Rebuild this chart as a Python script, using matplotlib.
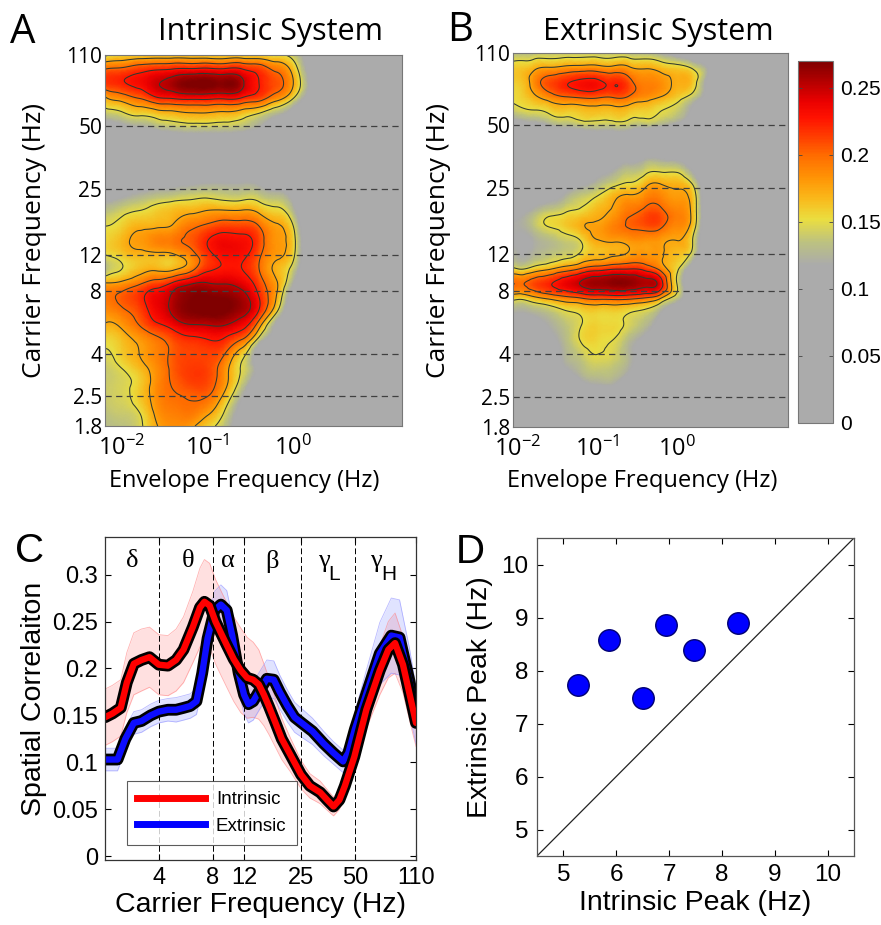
import numpy as np
import matplotlib
matplotlib.use("Agg")
import matplotlib.pyplot as plt
from matplotlib.colors import LinearSegmentedColormap
from matplotlib.lines import Line2D
import matplotlib.tri as mtri
import matplotlib.patheffects as pe
import matplotlib.transforms as mtrans

plt.rcParams['font.family'] = ['Liberation Sans', 'DejaVu Sans']
plt.rcParams['mathtext.default'] = 'regular'

# ---------------- heat-map data (panels A and B) ----------------
envelope_log10 = [-2.2, -2.0, -1.8, -1.6, -1.4, -1.2, -1.0, -0.8, -0.6, -0.4, -0.2, 0.0, 0.2, 0.4, 0.6]
carrier_freq = [1.8, 2.1, 2.5, 2.9, 3.4, 4.0, 4.7, 5.5, 6.4, 7.5, 8.8, 10.3, 12, 14, 16.5,
                19.3, 22.5, 26.5, 31, 36, 42, 50, 58, 68, 80, 94, 110]

intrinsic_map = [
    [0.130, 0.135, 0.145, 0.173, 0.185, 0.180, 0.158, 0.135, 0.090, 0.050, 0.020, 0.00, 0.00, 0.00, 0],
    [0.135, 0.140, 0.150, 0.180, 0.192, 0.195, 0.180, 0.148, 0.100, 0.050, 0.020, 0.00, 0.00, 0.00, 0],
    [0.140, 0.145, 0.160, 0.185, 0.198, 0.202, 0.200, 0.168, 0.120, 0.060, 0.020, 0.00, 0.00, 0.00, 0],
    [0.140, 0.145, 0.158, 0.185, 0.202, 0.212, 0.210, 0.182, 0.140, 0.080, 0.030, 0.00, 0.00, 0.00, 0],
    [0.140, 0.150, 0.165, 0.185, 0.205, 0.215, 0.212, 0.185, 0.148, 0.100, 0.040, 0.01, 0.00, 0.00, 0],
    [0.148, 0.160, 0.175, 0.190, 0.205, 0.212, 0.213, 0.200, 0.160, 0.090, 0.030, 0.01, 0.00, 0.00, 0],
    [0.155, 0.165, 0.180, 0.195, 0.210, 0.220, 0.225, 0.222, 0.200, 0.140, 0.080, 0.02, 0.00, 0.00, 0],
    [0.173, 0.180, 0.200, 0.220, 0.235, 0.248, 0.250, 0.250, 0.235, 0.185, 0.110, 0.04, 0.00, 0.00, 0],
    [0.185, 0.195, 0.210, 0.235, 0.255, 0.268, 0.272, 0.270, 0.258, 0.222, 0.155, 0.07, 0.01, 0.00, 0],
    [0.195, 0.205, 0.218, 0.238, 0.255, 0.268, 0.270, 0.268, 0.258, 0.225, 0.175, 0.09, 0.02, 0.00, 0],
    [0.175, 0.180, 0.195, 0.210, 0.228, 0.245, 0.250, 0.248, 0.240, 0.212, 0.178, 0.12, 0.03, 0.00, 0],
    [0.130, 0.150, 0.165, 0.170, 0.170, 0.190, 0.220, 0.228, 0.225, 0.200, 0.170, 0.140, 0.05, 0.00, 0],
    [0.150, 0.160, 0.168, 0.170, 0.172, 0.190, 0.218, 0.232, 0.230, 0.205, 0.180, 0.155, 0.06, 0.00, 0],
    [0.155, 0.168, 0.180, 0.190, 0.195, 0.205, 0.225, 0.235, 0.232, 0.212, 0.182, 0.158, 0.06, 0.00, 0],
    [0.150, 0.158, 0.170, 0.172, 0.178, 0.195, 0.205, 0.213, 0.212, 0.200, 0.178, 0.150, 0.05, 0.00, 0],
    [0.135, 0.145, 0.152, 0.160, 0.167, 0.172, 0.178, 0.180, 0.180, 0.172, 0.158, 0.130, 0.04, 0.00, 0],
    [0.110, 0.120, 0.130, 0.138, 0.143, 0.147, 0.150, 0.145, 0.145, 0.143, 0.135, 0.110, 0.03, 0.00, 0],
    [0.080, 0.090, 0.100, 0.105, 0.110, 0.115, 0.120, 0.120, 0.120, 0.115, 0.100, 0.080, 0.02, 0.00, 0],
    [0.060, 0.065, 0.070, 0.075, 0.080, 0.085, 0.090, 0.090, 0.090, 0.085, 0.070, 0.050, 0.01, 0.00, 0],
    [0.050, 0.050, 0.055, 0.060, 0.060, 0.065, 0.065, 0.065, 0.060, 0.055, 0.050, 0.030, 0.00, 0.00, 0],
    [0.060, 0.065, 0.070, 0.075, 0.080, 0.085, 0.085, 0.085, 0.080, 0.075, 0.060, 0.040, 0.01, 0.00, 0],
    [0.100, 0.110, 0.120, 0.130, 0.138, 0.142, 0.142, 0.140, 0.135, 0.120, 0.100, 0.070, 0.03, 0.00, 0],
    [0.140, 0.148, 0.158, 0.165, 0.170, 0.175, 0.175, 0.172, 0.165, 0.152, 0.130, 0.100, 0.05, 0.00, 0],
    [0.170, 0.185, 0.200, 0.220, 0.226, 0.230, 0.230, 0.228, 0.222, 0.210, 0.185, 0.150, 0.09, 0.03, 0],
    [0.215, 0.222, 0.232, 0.248, 0.260, 0.270, 0.272, 0.268, 0.255, 0.225, 0.208, 0.175, 0.11, 0.04, 0],
    [0.200, 0.205, 0.215, 0.222, 0.226, 0.228, 0.230, 0.228, 0.226, 0.215, 0.195, 0.165, 0.10, 0.03, 0],
    [0.145, 0.155, 0.158, 0.160, 0.160, 0.160, 0.158, 0.157, 0.157, 0.155, 0.150, 0.140, 0.09, 0.03, 0],
]

extrinsic_map = [
    [0.020, 0.020, 0.030, 0.030, 0.040, 0.050, 0.060, 0.060, 0.050, 0.040, 0.020, 0.000, 0.00, 0.00, 0],
    [0.030, 0.030, 0.040, 0.040, 0.050, 0.060, 0.070, 0.070, 0.060, 0.050, 0.030, 0.010, 0.00, 0.00, 0],
    [0.040, 0.040, 0.050, 0.060, 0.070, 0.080, 0.090, 0.090, 0.080, 0.060, 0.040, 0.010, 0.00, 0.00, 0],
    [0.050, 0.050, 0.060, 0.070, 0.090, 0.110, 0.120, 0.120, 0.100, 0.080, 0.050, 0.020, 0.00, 0.00, 0],
    [0.060, 0.060, 0.070, 0.090, 0.115, 0.130, 0.138, 0.135, 0.120, 0.090, 0.060, 0.020, 0.00, 0.00, 0],
    [0.070, 0.075, 0.085, 0.100, 0.125, 0.140, 0.150, 0.145, 0.125, 0.100, 0.060, 0.020, 0.00, 0.00, 0],
    [0.080, 0.085, 0.090, 0.110, 0.130, 0.152, 0.155, 0.150, 0.130, 0.110, 0.070, 0.030, 0.00, 0.00, 0],
    [0.100, 0.100, 0.105, 0.120, 0.135, 0.150, 0.157, 0.155, 0.145, 0.130, 0.100, 0.060, 0.01, 0.00, 0],
    [0.120, 0.120, 0.125, 0.135, 0.148, 0.155, 0.158, 0.158, 0.152, 0.145, 0.120, 0.080, 0.03, 0.00, 0],
    [0.155, 0.160, 0.172, 0.185, 0.196, 0.205, 0.212, 0.214, 0.212, 0.204, 0.182, 0.140, 0.07, 0.02, 0],
    [0.190, 0.198, 0.210, 0.222, 0.238, 0.252, 0.262, 0.266, 0.265, 0.256, 0.235, 0.150, 0.06, 0.02, 0],
    [0.145, 0.148, 0.158, 0.170, 0.185, 0.200, 0.212, 0.220, 0.222, 0.215, 0.190, 0.155, 0.09, 0.03, 0],
    [0.110, 0.120, 0.125, 0.135, 0.142, 0.155, 0.165, 0.172, 0.178, 0.182, 0.178, 0.165, 0.14, 0.05, 0],
    [0.110, 0.115, 0.120, 0.130, 0.140, 0.152, 0.174, 0.178, 0.182, 0.183, 0.180, 0.175, 0.15, 0.06, 0],
    [0.110, 0.120, 0.135, 0.152, 0.160, 0.172, 0.178, 0.190, 0.202, 0.208, 0.205, 0.188, 0.165, 0.07, 0],
    [0.100, 0.110, 0.125, 0.140, 0.148, 0.155, 0.168, 0.178, 0.195, 0.205, 0.205, 0.190, 0.168, 0.07, 0],
    [0.080, 0.090, 0.100, 0.110, 0.125, 0.140, 0.152, 0.170, 0.180, 0.188, 0.190, 0.180, 0.165, 0.07, 0],
    [0.060, 0.070, 0.080, 0.090, 0.100, 0.110, 0.125, 0.140, 0.150, 0.165, 0.172, 0.168, 0.145, 0.06, 0],
    [0.050, 0.050, 0.060, 0.070, 0.080, 0.090, 0.100, 0.115, 0.130, 0.138, 0.142, 0.140, 0.11, 0.05, 0],
    [0.040, 0.040, 0.050, 0.050, 0.060, 0.070, 0.070, 0.080, 0.090, 0.100, 0.100, 0.090, 0.07, 0.03, 0],
    [0.050, 0.050, 0.060, 0.060, 0.070, 0.070, 0.080, 0.080, 0.080, 0.070, 0.060, 0.050, 0.03, 0.01, 0],
    [0.100, 0.100, 0.110, 0.120, 0.130, 0.138, 0.140, 0.140, 0.138, 0.133, 0.125, 0.110, 0.09, 0.05, 0],
    [0.140, 0.142, 0.148, 0.155, 0.160, 0.163, 0.165, 0.165, 0.162, 0.158, 0.150, 0.140, 0.11, 0.06, 0.01],
    [0.150, 0.155, 0.170, 0.188, 0.200, 0.205, 0.205, 0.203, 0.198, 0.185, 0.175, 0.160, 0.14, 0.09, 0.02],
    [0.158, 0.160, 0.185, 0.210, 0.222, 0.230, 0.230, 0.222, 0.208, 0.190, 0.185, 0.172, 0.162, 0.10, 0.03],
    [0.155, 0.160, 0.168, 0.175, 0.180, 0.183, 0.183, 0.180, 0.177, 0.172, 0.165, 0.158, 0.145, 0.11, 0.03],
    [0.130, 0.132, 0.135, 0.138, 0.140, 0.140, 0.140, 0.138, 0.135, 0.130, 0.120, 0.100, 0.07, 0.03, 0],
]

contour_levels = [0.15, 0.175, 0.2, 0.225, 0.25]
carrier_ticks = [1.8, 2.5, 4, 8, 12, 25, 50, 110]
carrier_tick_labels = ['1.8', '2.5', '4', '8', '12', '25', '50', '110']
dashed_freqs = [2.5, 4, 8, 12, 25, 50]
envelope_ticks = [-2, -1, 0]
envelope_tick_labels = [r'$10^{-2}$', r'$10^{-1}$', r'$10^{0}$']
cbar_ticks = [0, 0.05, 0.1, 0.15, 0.2, 0.25]
cbar_tick_labels = ['0', '0.05', '0.1', '0.15', '0.2', '0.25']

# ---------------- panel C data ----------------
intrinsic_freq = [2.0, 2.2, 2.45, 2.65, 2.9, 3.2, 3.55, 4.0, 4.5, 5.0, 5.5, 6.2, 6.8, 7.2, 7.7,
                  8.3, 9.0, 9.6, 10.5, 11.5, 12.5, 13.5, 14.5, 15.5, 16.5, 18.0, 19.5, 21.8,
                  25.0, 28.0, 32.0, 35.0, 38.0, 41.0, 44.0, 49.7, 58.0, 69.0, 77.0, 84.0, 93.0,
                  102.0, 110.0]
intrinsic_corr = [0.148, 0.152, 0.158, 0.185, 0.205, 0.209, 0.212, 0.204, 0.203, 0.209, 0.220,
                  0.244, 0.265, 0.271, 0.267, 0.250, 0.236, 0.225, 0.210, 0.198, 0.190, 0.188,
                  0.183, 0.172, 0.160, 0.142, 0.125, 0.108, 0.087, 0.075, 0.068, 0.060, 0.053,
                  0.060, 0.075, 0.106, 0.156, 0.198, 0.220, 0.227, 0.204, 0.170, 0.142]
intrinsic_err = [0.030, 0.030, 0.030, 0.032, 0.033, 0.033, 0.032, 0.032, 0.032, 0.033, 0.035,
                 0.038, 0.042, 0.045, 0.045, 0.045, 0.045, 0.045, 0.045, 0.045, 0.043, 0.040,
                 0.037, 0.033, 0.030, 0.026, 0.022, 0.018, 0.015, 0.013, 0.012, 0.011, 0.010,
                 0.010, 0.011, 0.014, 0.020, 0.026, 0.030, 0.032, 0.030, 0.028, 0.025]

extrinsic_freq = [2.0, 2.35, 2.6, 2.9, 3.2, 3.6, 4.0, 4.5, 5.0, 5.5, 6.0, 6.5, 7.0, 7.5, 8.2,
                  8.9, 9.6, 10.3, 11.2, 12.0, 12.7, 13.5, 14.5, 16.1, 17.6, 19.0, 21.0, 23.0,
                  26.0, 29.0, 33.5, 38.0, 43.0, 46.0, 50.0, 58.0, 69.0, 80.0, 89.0, 101.0, 110.0]
extrinsic_corr = [0.103, 0.103, 0.125, 0.142, 0.144, 0.150, 0.154, 0.156, 0.156, 0.158, 0.160,
                  0.165, 0.195, 0.232, 0.262, 0.268, 0.262, 0.235, 0.195, 0.172, 0.162, 0.165,
                  0.175, 0.189, 0.188, 0.175, 0.160, 0.148, 0.140, 0.133, 0.120, 0.110, 0.101,
                  0.110, 0.135, 0.173, 0.216, 0.235, 0.233, 0.187, 0.150]
extrinsic_err = [0.012, 0.012, 0.012, 0.012, 0.012, 0.012, 0.012, 0.012, 0.013, 0.013, 0.013,
                 0.014, 0.016, 0.018, 0.020, 0.021, 0.021, 0.021, 0.020, 0.020, 0.020, 0.020,
                 0.020, 0.020, 0.020, 0.018, 0.017, 0.016, 0.015, 0.014, 0.013, 0.012, 0.012,
                 0.014, 0.018, 0.025, 0.033, 0.040, 0.040, 0.035, 0.030]

band_edges = [4, 8, 12, 25, 50]
band_names = ['δ', 'θ', 'α', 'β', 'γ', 'γ']
band_subscripts = ['', '', '', '', 'L', 'H']
band_label_freq = [2.83, 5.8, 9.8, 17.3, 33.5, 66.0]
c_xticks = [4, 8, 12, 25, 50, 110]
c_yticks = [0, 0.05, 0.1, 0.15, 0.2, 0.25, 0.3]
c_yticklabels = ['0', '0.05', '0.1', '0.15', '0.2', '0.25', '0.3']

# ---------------- panel D data ----------------
intrinsic_peak = [5.27, 5.87, 6.50, 6.95, 7.47, 8.30]
extrinsic_peak = [7.73, 8.57, 7.49, 8.86, 8.39, 8.90]
d_ticks = [5, 6, 7, 8, 9, 10]

# ---------------- figure ----------------
W, H = 881, 925
fig = plt.figure(figsize=(W / 100, H / 100), dpi=100)


def rect(x0, y0, x1, y1):
    return [x0 / W, 1 - y1 / H, (x1 - x0) / W, (y1 - y0) / H]


cmap = LinearSegmentedColormap.from_list('corr', [
    (0.0, (0.67, 0.67, 0.67)),
    (0.118 / 0.27, (0.67, 0.67, 0.67)),
    (0.135 / 0.27, (0.74, 0.76, 0.50)),
    (0.152 / 0.27, (0.92, 0.87, 0.25)),
    (0.168 / 0.27, (0.98, 0.72, 0.10)),
    (0.183 / 0.27, (1.00, 0.58, 0.02)),
    (0.200 / 0.27, (1.00, 0.42, 0.00)),
    (0.213 / 0.27, (1.00, 0.25, 0.00)),
    (0.228 / 0.27, (1.00, 0.07, 0.00)),
    (0.240 / 0.27, (0.92, 0.00, 0.00)),
    (0.252 / 0.27, (0.75, 0.00, 0.00)),
    (1.0, (0.50, 0.00, 0.00))])

SANS2 = ['Open Sans', 'DejaVu Sans']


def smooth_field(Z):
    """Smooth display surface through the read grid values (matplotlib tri refiner)."""
    xs = np.array(envelope_log10)
    ys = np.log10(carrier_freq)
    sx, sy = 0.2, 0.0687
    nx, ny = len(xs), len(ys)
    LX, LY = np.meshgrid(xs / sx, ys / sy)
    tris = []
    for j in range(ny - 1):
        for i in range(nx - 1):
            a = j * nx + i
            b, c = a + 1, a + nx
            d = c + 1
            if (i + j) % 2 == 0:
                tris += [[a, b, d], [a, d, c]]
            else:
                tris += [[a, b, c], [b, d, c]]
    tri = mtri.Triangulation(LX.ravel(), LY.ravel(), np.array(tris))
    z = np.asarray(Z, dtype=float).ravel()
    interp = mtri.CubicTriInterpolator(tri, z, kind='min_E')
    tri_r, z_r = mtri.UniformTriRefiner(tri).refine_field(z, triinterpolator=interp, subdiv=4)
    return mtri.Triangulation(tri_r.x * sx, tri_r.y * sy, tri_r.triangles), z_r


def heatmap(ax, Z, xlim, ylab_x, xlab_y):
    tri_p, z_r = smooth_field(Z)
    ax.set_facecolor(cmap(0.0))
    m = ax.tripcolor(tri_p, z_r, shading='gouraud', cmap=cmap, vmin=0, vmax=0.27,
                     rasterized=True)
    ax.tricontour(tri_p, z_r, levels=contour_levels, colors='#303a30', linewidths=0.75)
    for f in dashed_freqs:
        ax.axhline(np.log10(f), color='#404040', lw=0.9, ls=(0, (5, 3.5)))
    ax.set_xlim(*xlim)
    ax.set_ylim(np.log10(carrier_freq[0]), np.log10(carrier_freq[-1]))
    ax.set_yticks(np.log10(carrier_ticks))
    ax.set_yticklabels(carrier_tick_labels, family=SANS2, fontsize=15)
    ax.set_xticks(envelope_ticks)
    ax.set_xticklabels(envelope_tick_labels, family=SANS2, fontsize=17)
    ax.tick_params(length=0, pad=2)
    ax.tick_params(axis='x', pad=7)
    for s in ax.spines.values():
        s.set_color('#777777')
        s.set_linewidth(0.8)
    ax.set_ylabel('Carrier Frequency (Hz)', family=SANS2, fontsize=19)
    ax.set_xlabel('Envelope Frequency (Hz)', family=SANS2, fontsize=17)
    ax.yaxis.set_label_coords(ylab_x, 0.5)
    ax.xaxis.set_label_coords(0.47, xlab_y)
    return m


axA = fig.add_axes(rect(105, 55, 402, 426))
heatmap(axA, intrinsic_map, (-2.2, 1.27), -0.195, -0.115)
axB = fig.add_axes(rect(513, 53, 788, 427))
mB = heatmap(axB, extrinsic_map, (-2.06, 1.40), -0.225, -0.112)

fig.text(270 / W, 1 - 40 / H, 'Intrinsic System', ha='center', va='baseline',
         family=SANS2, fontsize=22)
fig.text(658 / W, 1 - 40 / H, 'Extrinsic System', ha='center', va='baseline',
         family=SANS2, fontsize=22)

cax = fig.add_axes(rect(798, 61, 833, 423))
cb = fig.colorbar(mB, cax=cax)
cb.set_ticks(cbar_ticks)
cb.set_ticklabels(cbar_tick_labels)
cax.tick_params(direction='in', left=True, right=True, length=3, width=0.6,
                labelsize=15, pad=5, color='#444444')
cb.outline.set_edgecolor('#777777')
cb.outline.set_linewidth(0.8)

# ---------------- panel C ----------------
axC = fig.add_axes(rect(105, 537, 416, 860))
fi, vi, ei = map(np.asarray, (intrinsic_freq, intrinsic_corr, intrinsic_err))
fe, ve, ee = map(np.asarray, (extrinsic_freq, extrinsic_corr, extrinsic_err))
axC.fill_between(fi, vi - ei, vi + ei, color=(1.0, 0.45, 0.45), alpha=0.22, lw=0)
axC.fill_between(fe, ve - ee, ve + ee, color=(0.45, 0.5, 1.0), alpha=0.22, lw=0)
for f, v, e, c in ((fi, vi, ei, (1.0, 0.5, 0.5)), (fe, ve, ee, (0.55, 0.55, 1.0))):
    axC.plot(f, v + e, color=c, lw=0.6, alpha=0.6)
    axC.plot(f, v - e, color=c, lw=0.6, alpha=0.6)
for x in band_edges:
    axC.axvline(x, color='k', lw=0.7, ls=(0, (6, 3)))
outline = [pe.Stroke(linewidth=8.5, foreground='k'), pe.Normal()]
axC.plot(fe, ve, color=(0.05, 0.05, 1.0), lw=4.6, path_effects=outline,
         solid_joinstyle='round', solid_capstyle='round')
axC.plot(fi, vi, color=(1.0, 0.0, 0.0), lw=4.6, path_effects=outline,
         solid_joinstyle='round', solid_capstyle='round')
axC.set_xscale('log')
axC.set_xlim(2.0, 110)
axC.set_ylim(-0.004, 0.34)
axC.set_xticks(c_xticks)
axC.set_xticklabels([str(t) for t in c_xticks])
axC.minorticks_off()
axC.set_yticks(c_yticks)
axC.set_yticklabels(c_yticklabels)
axC.tick_params(direction='in', top=True, right=True, length=4, width=0.8,
                labelsize=17, pad=5)
axC.set_xlabel('Carrier Frequency (Hz)', fontsize=20.5, labelpad=2)
axC.set_ylabel('Spatial Correlaiton', fontsize=20.5, labelpad=4)
for s in axC.spines.values():
    s.set_color('#333333')
    s.set_linewidth(0.9)
trans = mtrans.blended_transform_factory(axC.transData, axC.transAxes)
for f, name, sub in zip(band_label_freq, band_names, band_subscripts):
    axC.text(f, 0.925, name, transform=trans, ha='center', va='center',
             family=['Liberation Serif', 'DejaVu Serif'], fontsize=19)
    if sub:
        axC.text(f * 1.06, 0.885, sub, transform=trans, ha='left', va='center',
                 fontsize=15)
handles = [Line2D([], [], color='red', lw=5), Line2D([], [], color='blue', lw=5)]
leg = axC.legend(handles, ['Intrinsic', 'Extrinsic'], loc='lower left',
                 bbox_to_anchor=(0.07, 0.046), borderaxespad=0, fontsize=13.5,
                 frameon=True, fancybox=False, handlelength=3.6, handletextpad=0.6,
                 borderpad=0.55, labelspacing=0.5)
leg.get_frame().set_edgecolor('#333333')
leg.get_frame().set_linewidth(0.8)

# ---------------- panel D ----------------
axD = fig.add_axes(rect(537, 538, 854, 856))
axD.plot([4.5, 10.5], [4.5, 10.5], color='#222222', lw=0.9)
axD.scatter(intrinsic_peak, extrinsic_peak, s=240, color=(0.0, 0.0, 1.0),
            edgecolors=(0.0, 0.0, 0.45), linewidths=1.0, zorder=3)
axD.set_xlim(4.5, 10.5)
axD.set_ylim(4.5, 10.5)
axD.set_xticks(d_ticks)
axD.set_yticks(d_ticks)
axD.tick_params(direction='in', top=True, right=True, length=4, width=0.8,
                labelsize=17.5, pad=6)
axD.set_xlabel('Intrinsic Peak (Hz)', fontsize=20.5, labelpad=3)
axD.set_ylabel('Extrinsic Peak (Hz)', fontsize=20.5, labelpad=6)
for s in axD.spines.values():
    s.set_color('#555555')
    s.set_linewidth(0.9)

# ---------------- panel letters ----------------
fig.text(10 / W, 1 - 43 / H, 'A', family=SANS2, fontsize=29, va='baseline')
fig.text(447 / W, 1 - 41 / H, 'B', family=SANS2, fontsize=29, va='baseline')
fig.text(15 / W, 1 - 562 / H, 'C', fontsize=29, va='baseline')
fig.text(456 / W, 1 - 563 / H, 'D', fontsize=29, va='baseline')

fig.savefig('out.png', dpi=100)
